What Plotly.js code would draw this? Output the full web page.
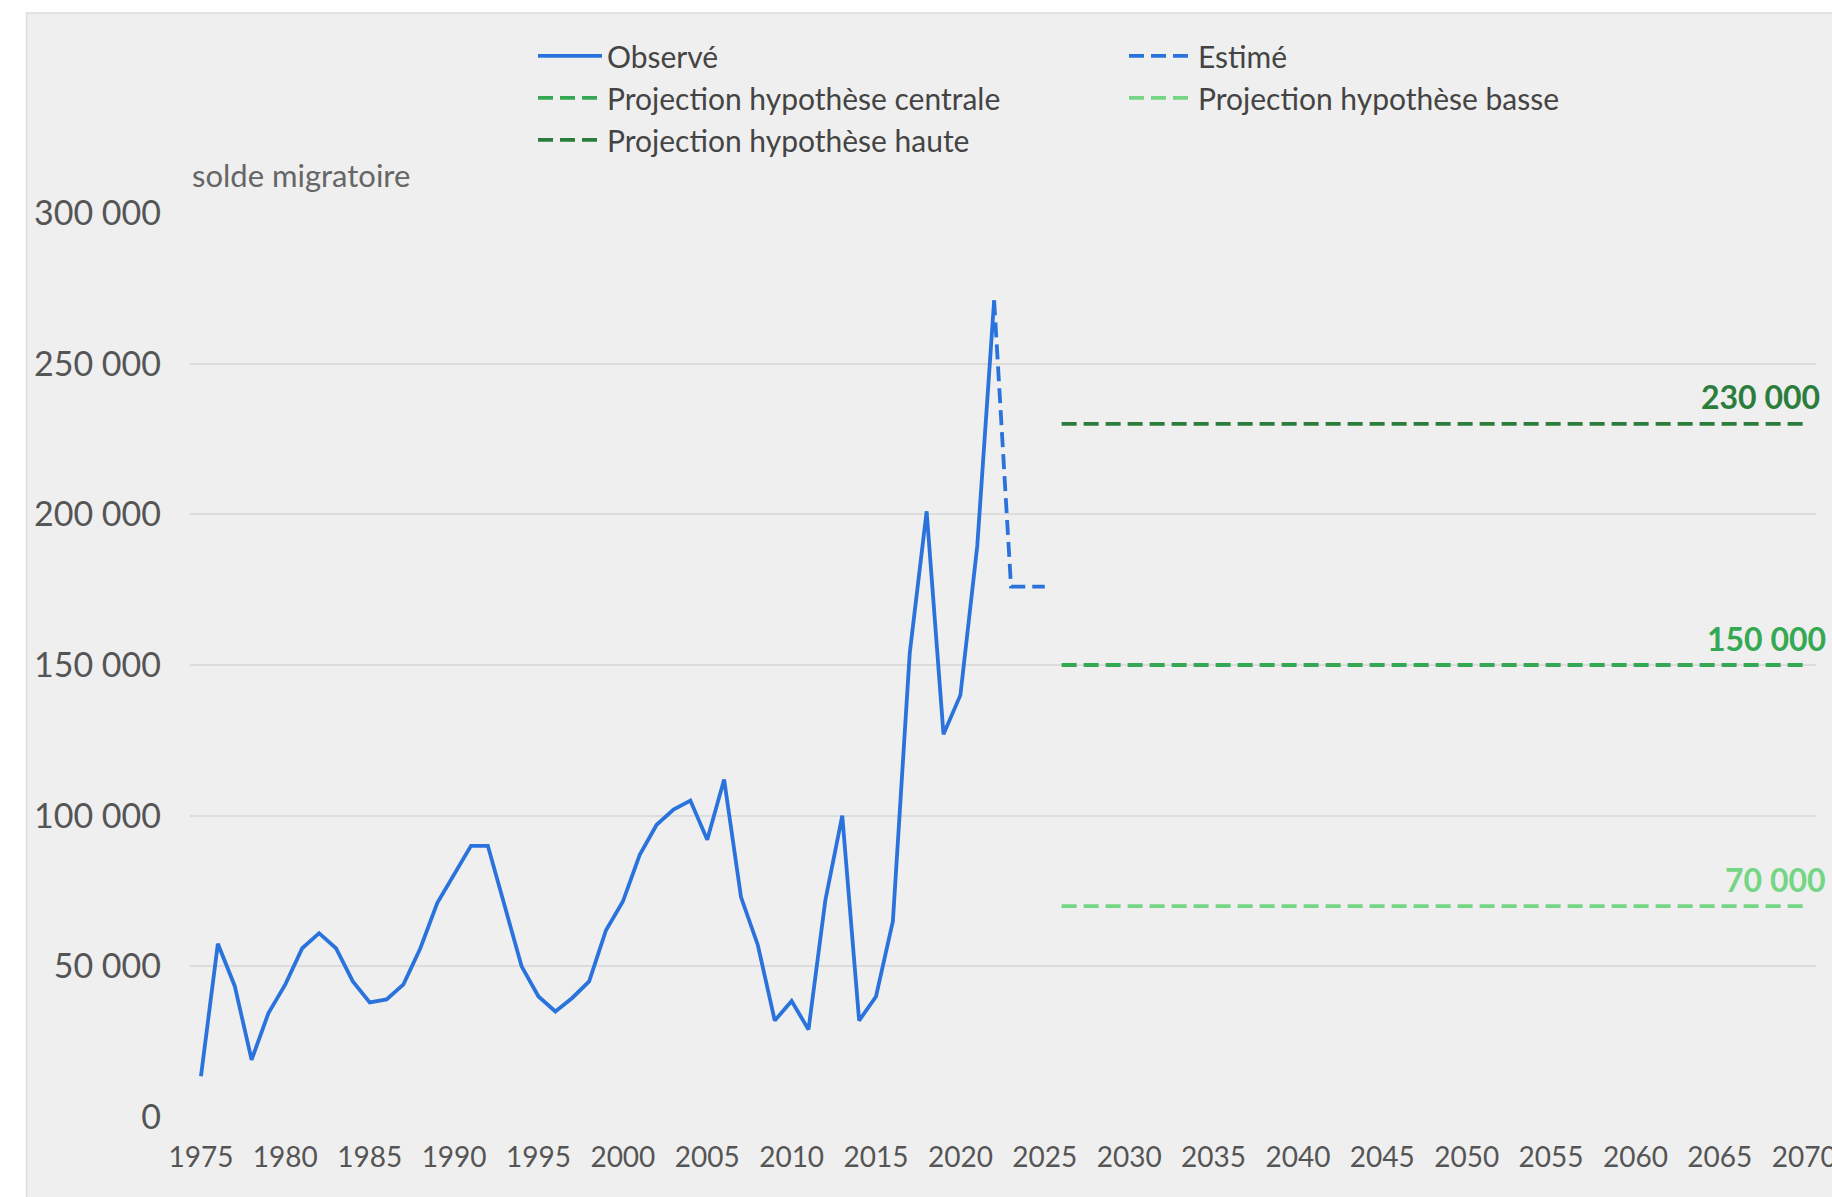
<!DOCTYPE html>
<html>
<head>
<meta charset="utf-8">
<script src="https://cdn.plot.ly/plotly-3.0.1.min.js"></script>
<style>html,body{margin:0;padding:0;background:#fff;overflow:hidden}#chart{width:1832px;height:1197px}</style>
</head>
<body>
<div id="chart"></div>
<script>
const obsYears = [1975,1976,1977,1978,1979,1980,1981,1982,1983,1984,1985,1986,1987,1988,1989,1990,1991,1992,1993,1994,1995,1996,1997,1998,1999,2000,2001,2002,2003,2004,2005,2006,2007,2008,2009,2010,2011,2012,2013,2014,2015,2016,2017,2018,2019,2020,2021,2022];
const obsValues = [13500,57500,43500,19000,34500,44000,56000,61000,56000,45000,38000,39000,44000,56000,71000,80500,90000,90000,70500,50000,40000,35000,39500,45000,62000,71500,87000,97000,102000,105000,92000,112000,73000,57000,32000,38500,29000,72000,100000,32000,40000,65000,154000,201000,127000,140000,189500,271000];
const estYears = [2022,2023,2024,2025];
const estValues = [271000,176000,176000,176000];
const projYears = [2026,2070];
const projCentrale = [150000,150000];
const projBasse = [70000,70000];
const projHaute = [230000,230000];
const seriesNames = ["Observé","Estimé","Projection hypothèse centrale","Projection hypothèse basse","Projection hypothèse haute"];
const projLabels = ["230 000","150 000","70 000"];
const yTickVals = [0,50000,100000,150000,200000,250000,300000];
const yTickText = ["0","50 000","100 000","150 000","200 000","250 000","300 000"];
const xTickVals = [1975,1980,1985,1990,1995,2000,2005,2010,2015,2020,2025,2030,2035,2040,2045,2050,2055,2060,2065,2070];

const BLUE = "#2a73dc", GREEN = "#34a853", LIGHT = "#74d684", DARK = "#2b7d3c";
const FONT = "Lato, 'Open Sans', sans-serif";
const DASH = "15px,7px";
const LW = 3.8;

// plot area in pixels
const L = 190, R = 1816, T = 212.6, B = 1116.6;
const PW = R - L, PH = B - T;
const px = v => (v - L) / PW;
const py = v => (B - v) / PH;

const traces = [
  {x: obsYears, y: obsValues, name: seriesNames[0], mode: "lines", line: {color: BLUE, width: LW}},
  {x: estYears, y: estValues, name: seriesNames[1], mode: "lines", line: {color: BLUE, width: LW, dash: DASH}},
  {x: projYears, y: projCentrale, name: seriesNames[2], mode: "lines", line: {color: GREEN, width: LW, dash: DASH}},
  {x: projYears, y: projBasse, name: seriesNames[3], mode: "lines", line: {color: LIGHT, width: LW, dash: DASH}},
  {x: projYears, y: projHaute, name: seriesNames[4], mode: "lines", line: {color: DARK, width: LW, dash: DASH}}
];

const layout = {
  width: 1832, height: 1197,
  margin: {l: L, r: 1832 - R, t: T, b: 1197 - B, pad: 0},
  paper_bgcolor: "#efefef",
  plot_bgcolor: "#efefef",
  font: {family: FONT, color: "#555"},
  showlegend: true,
  legend: {
    orientation: "h",
    x: px(533), xanchor: "left",
    y: py(29.5), yanchor: "top",
    entrywidth: 512, entrywidthmode: "pixels",
    itemwidth: 64,
    font: {family: FONT, size: 30, color: "#444"},
    bgcolor: "rgba(0,0,0,0)",
    traceorder: "normal"
  },
  xaxis: {
    range: [1974.35, 2070.7],
    tickmode: "array", tickvals: xTickVals,
    showgrid: false, zeroline: false, showline: false,
    ticks: "", tickfont: {family: FONT, size: 28, color: "#555"},
    ticklabelstandoff: 21,
    ticklabeloverflow: "allow"
  },
  yaxis: {
    range: [0, 300000],
    tickmode: "array", tickvals: yTickVals, ticktext: yTickText,
    showgrid: true, gridcolor: "#dcdcdc", gridwidth: 2,
    zeroline: false, showline: false,
    ticks: "", tickfont: {family: FONT, size: 34, color: "#555"},
    ticklabelstandoff: 28
  },
  annotations: [
    {xref: "paper", yref: "paper", x: px(190), y: py(175), xanchor: "left", yanchor: "middle", showarrow: false,
     text: "solde migratoire", font: {family: FONT, size: 31, color: "#666"}},
    {xref: "paper", yref: "y", x: px(1822), y: projHaute[1], xanchor: "right", yanchor: "middle", yshift: 27, showarrow: false,
     text: "<b>" + projLabels[0] + "</b>", font: {family: FONT, size: 32, color: DARK}},
    {xref: "paper", yref: "y", x: px(1828), y: projCentrale[1], xanchor: "right", yanchor: "middle", yshift: 27, showarrow: false,
     text: "<b>" + projLabels[1] + "</b>", font: {family: FONT, size: 32, color: GREEN}},
    {xref: "paper", yref: "y", x: px(1828), y: projBasse[1], xanchor: "right", yanchor: "middle", yshift: 27, showarrow: false,
     text: "<b>" + projLabels[2] + "</b>", font: {family: FONT, size: 32, color: LIGHT}}
  ],
  shapes: [
    {type: "rect", xref: "paper", yref: "paper", x0: px(-5), x1: px(1840), y0: py(12), y1: py(-5), fillcolor: "#ffffff", line: {width: 0}, layer: "above"},
    {type: "rect", xref: "paper", yref: "paper", x0: px(-5), x1: px(26), y0: py(1205), y1: py(0), fillcolor: "#ffffff", line: {width: 0}, layer: "above"},
    {type: "line", xref: "paper", yref: "paper", x0: px(26), x1: px(1840), y0: py(12.5), y1: py(12.5), line: {color: "#dedede", width: 1.5}, layer: "above"},
    {type: "line", xref: "paper", yref: "paper", x0: px(26.5), x1: px(26.5), y0: py(12), y1: py(1205), line: {color: "#dedede", width: 1.5}, layer: "above"}
  ]
};

Plotly.newPlot("chart", traces, layout, {displayModeBar: false, staticPlot: true});
</script>
</body>
</html>
